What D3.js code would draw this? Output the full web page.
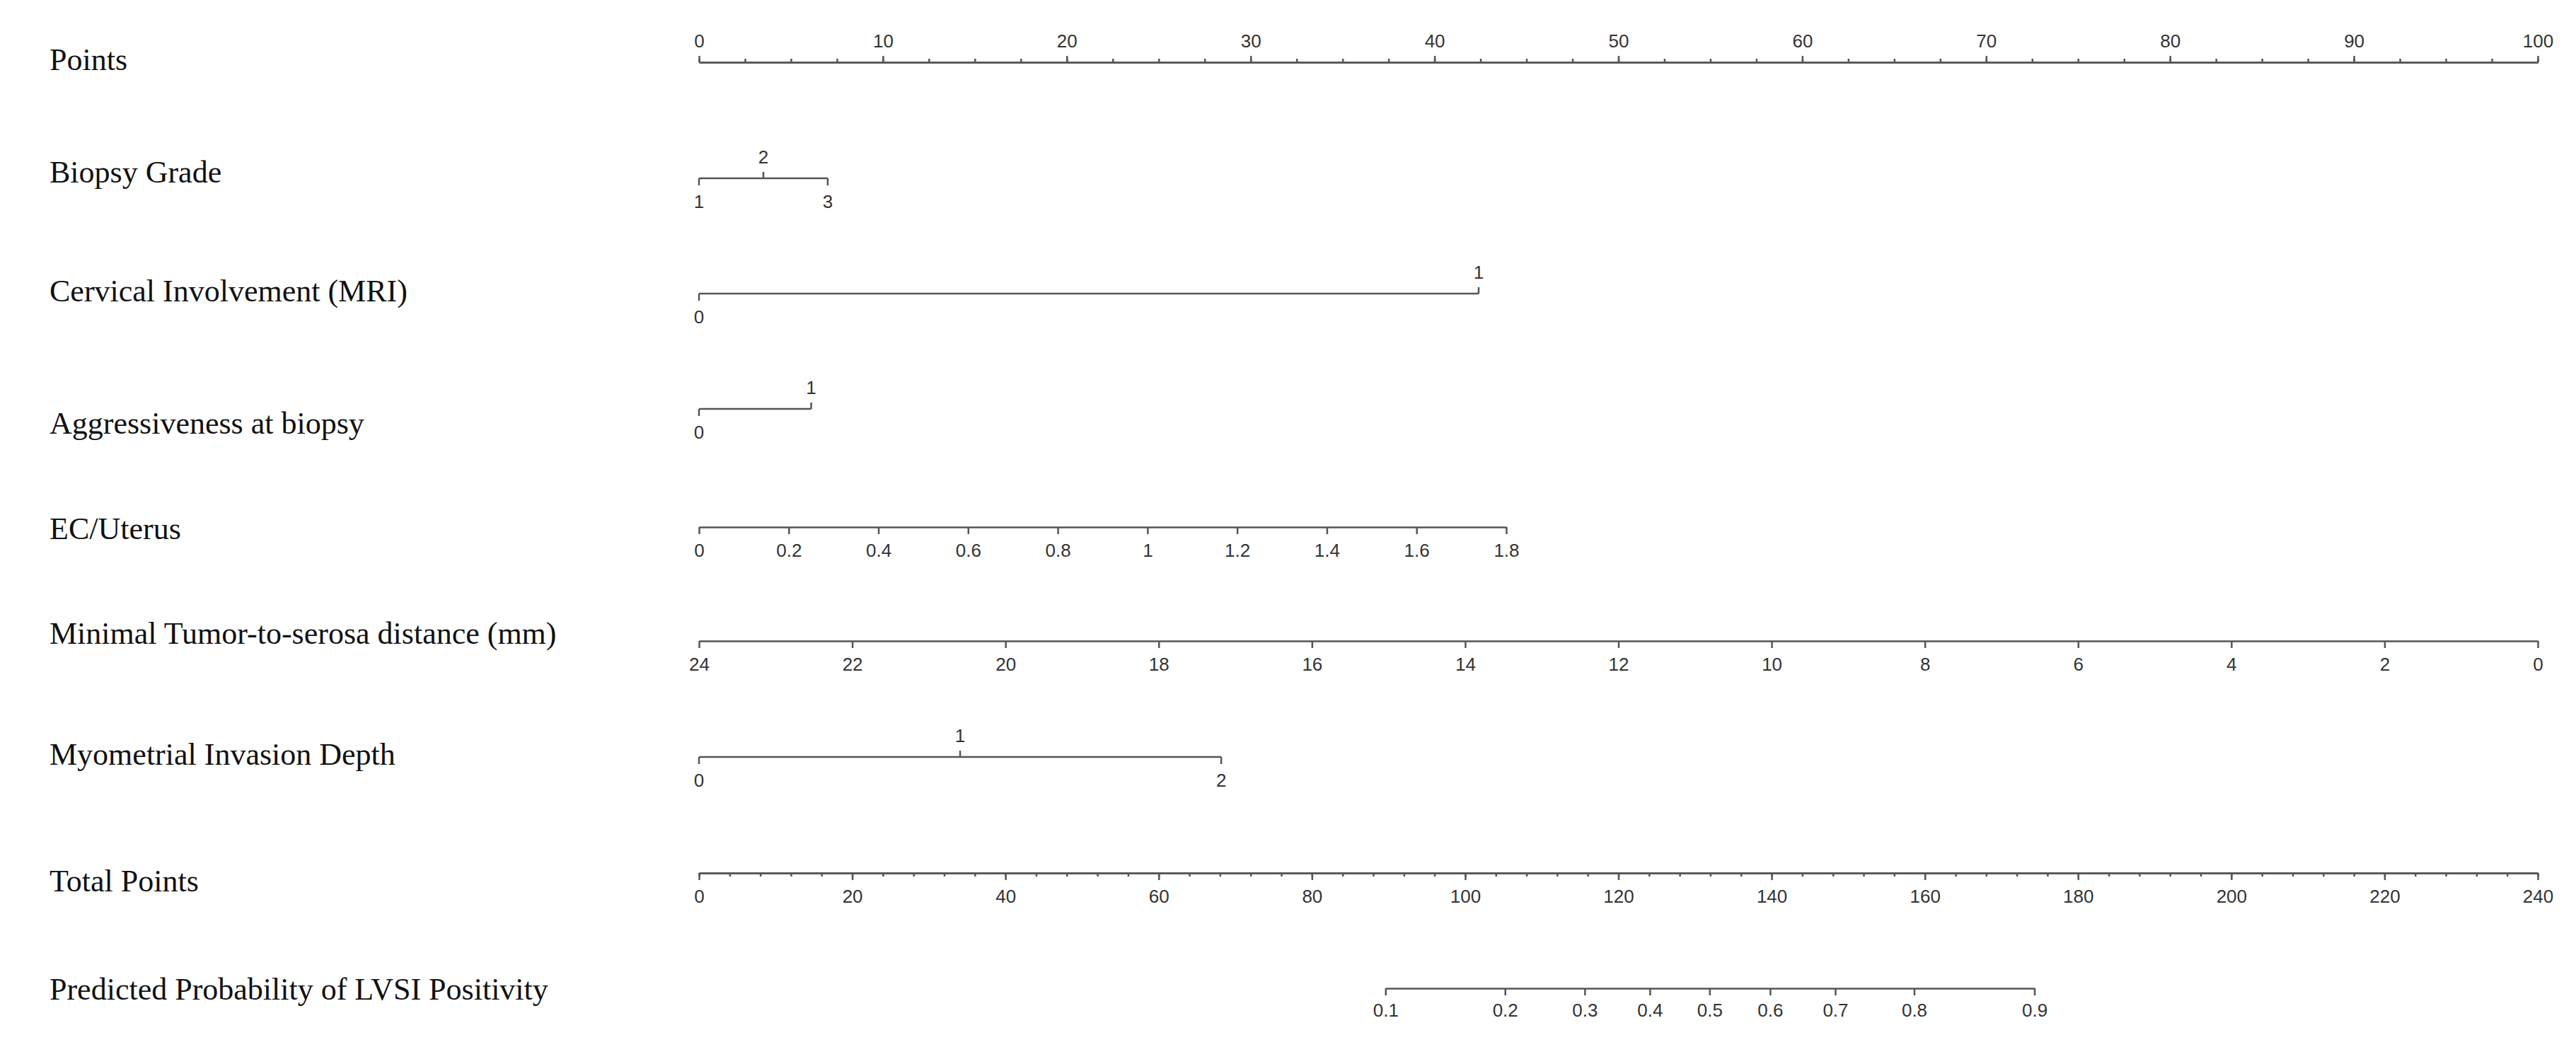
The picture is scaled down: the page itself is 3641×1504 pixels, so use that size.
<!DOCTYPE html>
<html>
<head>
<meta charset="utf-8">
<script src="https://cdn.jsdelivr.net/npm/d3@7"></script>
<style>
  body { margin: 0; background: #fff; }
  .rowlabel { font-family: "Liberation Serif", "Times New Roman", serif; font-size: 44px; fill: #111; }
  .axis text { font-family: "Liberation Sans", Arial, sans-serif; font-size: 26px; fill: #333; }
  .axis path, .axis line, .cat line { stroke: #555; stroke-width: 2.5; }
  .cat text { font-family: "Liberation Sans", Arial, sans-serif; font-size: 26px; fill: #333; }
</style>
</head>
<body>
<div id="nomogram"></div>
<script>
// row titles, top to bottom
var rowLabels = [
  "Points",
  "Biopsy Grade",
  "Cervical Involvement (MRI)",
  "Aggressiveness at biopsy",
  "EC/Uterus",
  "Minimal Tumor-to-serosa distance (mm)",
  "Myometrial Invasion Depth",
  "Total Points",
  "Predicted Probability of LVSI Positivity"
]

var biopsyLevels = ["1", "2", "3"]
var biopsyPoints = [0, 3.5, 7.0]
var biopsySide = ["below", "above", "below"]

var cervicalLevels = ["0", "1"]
var cervicalPoints = [0, 42.4]
var cervicalSide = ["below", "above"]

var aggressLevels = ["0", "1"]
var aggressPoints = [0, 6.1]
var aggressSide = ["below", "above"]

var myoLevels = ["0", "1", "2"]
var myoPoints = [0, 14.2, 28.4]
var myoSide = ["below", "above", "below"]

// continuous predictors
var ecTicks = [0, 0.2, 0.4, 0.6, 0.8, 1, 1.2, 1.4, 1.6, 1.8]
var ecMaxPoints = 43.9 // points at EC/Uterus = 1.8

var distanceTicks = [24, 22, 20, 18, 16, 14, 12, 10, 8, 6, 4, 2, 0]

var pointTicks = [0, 10, 20, 30, 40, 50, 60, 70, 80, 90, 100]
var totalTicks = [0, 20, 40, 60, 80, 100, 120, 140, 160, 180, 200, 220, 240]

// probability labels and the total points where they sit
var probTicks = [0.1, 0.2, 0.3, 0.4, 0.5, 0.6, 0.7, 0.8, 0.9]
var probTotals = [89.6, 105.2, 115.6, 124.1, 131.9, 139.8, 148.3, 158.6, 174.3]

var width = 3641
var height = 1504
var x0 = 988
var x1 = 3587
var labelX = 70
var rowY = [88, 252, 415, 578, 745, 906, 1070, 1234, 1397]
var labelY = [84, 243, 411, 598, 747, 895, 1066, 1245, 1398]

var svg = d3.select("#nomogram").append("svg")
  .attr("width", width)
  .attr("height", height)
  .style("background", "#fff")

var x = d3.scaleLinear().domain([0, 100]).range([x0, x1])
var xTotal = d3.scaleLinear().domain([0, 240]).range([x0, x1])
var xEC = d3.scaleLinear().domain([0, 1.8]).range([x(0), x(ecMaxPoints)])
var xDist = d3.scaleLinear().domain([24, 0]).range([x(0), x(100)])
var xProb = d3.scaleLinear().domain(probTicks).range(probTotals.map(xTotal))

var fmt = function (d) { return String(+d.toFixed(2)) }

svg.selectAll("text.rowlabel")
  .data(rowLabels)
  .enter()
  .append("text")
  .attr("class", "rowlabel")
  .attr("x", labelX)
  .attr("y", function (d, i) { return labelY[i] })
  .attr("dy", "0.35em")
  .text(function (d) { return d })

function addAxis(row, axis) {
  var g = svg.append("g")
    .attr("class", "axis")
    .attr("transform", "translate(0," + rowY[row] + ")")
    .call(axis)
  g.attr("font-family", null).attr("font-size", null)
  return g
}

// Points: minor ticks every 2.5, labels every 10
addAxis(0, d3.axisTop(x).tickValues(d3.range(0, 100.01, 2.5)).tickSize(5).tickSizeOuter(0).tickFormat(""))
addAxis(0, d3.axisTop(x).tickValues(pointTicks).tickSize(9).tickSizeOuter(0).tickPadding(12).tickFormat(fmt))

// categorical rows
function catRow(row, levels, pts, side) {
  var g = svg.append("g")
    .attr("class", "cat")
    .attr("transform", "translate(0," + rowY[row] + ")")
  g.append("line")
    .attr("x1", x(d3.min(pts)))
    .attr("x2", x(d3.max(pts)))
  var lv = g.selectAll("g.lv")
    .data(levels)
    .enter()
    .append("g")
    .attr("class", "lv")
    .attr("transform", function (d, i) { return "translate(" + x(pts[i]) + ",0)" })
  lv.append("line")
    .attr("y2", function (d, i) { return side[i] == "above" ? -9 : 10 })
  lv.append("text")
    .attr("text-anchor", "middle")
    .attr("y", function (d, i) { return side[i] == "above" ? -21 : 24 })
    .attr("dy", function (d, i) { return side[i] == "above" ? "0em" : "0.71em" })
    .text(function (d) { return d })
}

catRow(1, biopsyLevels, biopsyPoints, biopsySide)
catRow(2, cervicalLevels, cervicalPoints, cervicalSide)
catRow(3, aggressLevels, aggressPoints, aggressSide)

addAxis(4, d3.axisBottom(xEC).tickValues(ecTicks).tickSize(10).tickSizeOuter(0).tickPadding(14).tickFormat(fmt))
addAxis(5, d3.axisBottom(xDist).tickValues(distanceTicks).tickSize(10).tickSizeOuter(0).tickPadding(14).tickFormat(fmt))

catRow(6, myoLevels, myoPoints, myoSide)

// Total Points: minor ticks every 4, labels every 20
addAxis(7, d3.axisBottom(xTotal).tickValues(d3.range(0, 240.01, 4)).tickSize(5).tickSizeOuter(0).tickFormat(""))
addAxis(7, d3.axisBottom(xTotal).tickValues(totalTicks).tickSize(10).tickSizeOuter(0).tickPadding(14).tickFormat(fmt))

addAxis(8, d3.axisBottom(xProb).tickValues(probTicks).tickSize(10).tickSizeOuter(0).tickPadding(12).tickFormat(fmt))
</script>
</body>
</html>
